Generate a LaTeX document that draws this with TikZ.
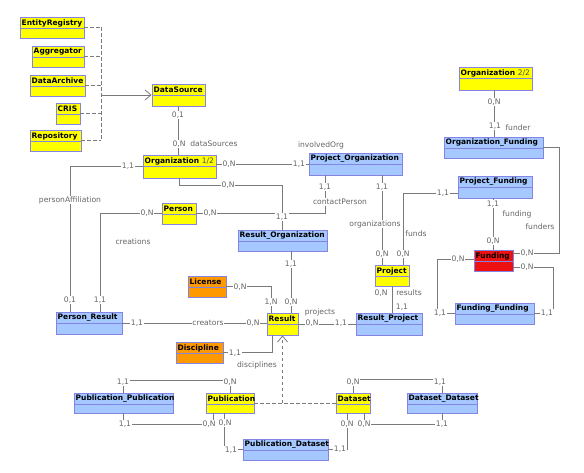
\documentclass[tikz,border=0pt]{standalone}
\usepackage{fontspec}
\setmainfont{DejaVu Sans}
\usetikzlibrary{fit,arrows.meta}
\definecolor{yel}{HTML}{FFFF00}
\definecolor{blu}{HTML}{A4C8FF}
\definecolor{ora}{HTML}{FF9900}
\definecolor{redf}{HTML}{EE1111}
\definecolor{bord}{HTML}{8484E4}
\definecolor{lnk}{HTML}{7A7A7A}
\definecolor{lbt}{HTML}{666666}
\tikzset{
  ebox/.style={draw=bord, line width=0.8pt, inner sep=0pt, rectangle},
  hdr/.style={font=\fontsize{7.5}{8}\selectfont\bfseries, inner sep=0pt, text=black},
  lab/.style={font=\fontsize{7.6}{8}\selectfont, text=lbt, fill=white, inner sep=0.8pt},
  link/.style={draw=lnk, line width=0.8pt},
  inh/.style={draw=lnk, line width=0.8pt, dash pattern=on 3.5pt off 2.5pt},
  opentip/.style={-{Straight Barb[length=6pt,width=10pt]}}
}
\newcommand\ent[7]{%
  \node[ebox, fill=#6, fit={(#2,#3) (#4,#5)}] (#1) {};
  \draw[draw=bord, line width=0.8pt] (#2,{#3+11.5}) -- (#4,{#3+11.5});
  \node[hdr, anchor=west] (#1h) at ({#2+1.5},{#3+6}) {#7};
}
\newcommand\lb[3]{\node[lab] (#1) at (#2) {#3};}
\begin{document}
\begin{tikzpicture}[x=1pt,y=-1pt]
\useasboundingbox (0,0) rectangle (584,473);
% boxes
\ent{er}{20}{17}{84}{38}{yel}{EntityRegistry}
\ent{agg}{32}{46}{84}{67}{yel}{Aggregator}
\ent{da}{30}{75}{85}{96}{yel}{DataArchive}
\ent{cris}{56}{103}{80}{124}{yel}{CRIS}
\ent{repo}{30}{130}{81}{151}{yel}{Repository}
\ent{ds}{152}{84}{205}{106}{yel}{DataSource}
\ent{orgA}{143}{155}{216}{178}{yel}{Organization {\mdseries\color{black!70}1/2}}
\ent{po}{309}{153}{402}{175}{blu}{Project\_Organization}
\ent{person}{162}{203}{196}{224}{yel}{Person}
\ent{ro}{238}{230}{327}{251}{blu}{Result\_Organization}
\ent{lic}{188}{276}{226}{297}{ora}{License}
\ent{res}{267}{313}{298}{335}{yel}{Result}
\ent{pr}{56}{312}{122}{334}{blu}{Person\_Result}
\ent{disc}{176}{342}{223}{363}{ora}{Discipline}
\ent{rp}{356}{313}{422}{335}{blu}{Result\_Project}
\ent{proj}{375}{265}{409}{286}{yel}{Project}
\ent{orgB}{459}{67}{532}{90}{yel}{Organization {\mdseries\color{black!70}2/2}}
\ent{of}{444}{137}{543}{158}{blu}{Organization\_Funding}
\ent{pf}{458}{176}{532}{198}{blu}{Project\_Funding}
\ent{fund}{474}{250}{513}{271}{redf}{Funding}
\ent{ff}{455}{303}{534}{324}{blu}{Funding\_Funding}
\ent{pp}{74}{393}{173}{413}{blu}{Publication\_Publication}
\ent{pub}{206}{393}{254}{413}{yel}{Publication}
\ent{pd}{243}{439}{328}{460}{blu}{Publication\_Dataset}
\ent{dset}{336}{393}{370}{413}{yel}{Dataset}
\ent{dd}{407}{393}{477}{413}{blu}{Dataset\_Dataset}
% inheritance
\draw[inh] (er.east) -- (er.east -| 101,0);
\draw[inh] (agg.east) -- (agg.east -| 101,0);
\draw[inh] (da.east) -- (da.east -| 101,0);
\draw[inh] (cris.east) -- (cris.east -| 101,0);
\draw[inh] (repo.east) -- (repo.east -| 101,0);
\draw[inh] (er.east -| 101,0) -- (repo.east -| 101,0);
\draw[link, opentip] (ds.west -| 101,0) -- (ds.west);
\draw[inh] (pub.east) -- (dset.west);
\draw[inh, opentip] (pub.east -| res.south) -- (res.south);
% associations
\draw[link] (ds.south) -- (ds.south |- orgA.north);
\draw[link] (po.west -| orgA.east) -- (po.west);
\draw[link] (orgA.south -| 179,0) |- (282,185) -- (ro.north -| 282,0);
\draw[link] (pr.north -| 70,0) |- (orgA.west);
\draw[link] (pr.north -| 100,0) |- (person.west);
\draw[link] (person.east) -| (po.south -| 325,0);
\draw[link] (ro.south -| 291,0) -- (res.north -| 291,0);
\draw[link] (lic.east) -| (res.north -| 271,0);
\draw[link] (pr.east) -- (pr.east -| res.west);
\draw[link] (disc.east) -| (res.south -| 272,0);
\draw[link] (res.east) -- (res.east -| rp.west);
\draw[link] (proj.south) -- (proj.south |- rp.north);
\draw[link] (po.south -| 382,0) -- (proj.north -| 382,0);
\draw[link] (proj.north -| 403,0) |- (pf.west |- 0,193);
\draw[link] (orgB.south -| 494,0) -- (of.north -| 494,0);
\draw[link] (of.east) -| (559,253) -- (fund.east |- 0,253);
\draw[link] (pf.south -| 493,0) -- (fund.north -| 493,0);
\draw[link] (fund.east |- 0,267) -| (ff.east -| 553,0) -- (ff.east);
\draw[link] (fund.west |- 0,259) -| (ff.west -| 437,0) -- (ff.west);
\draw[link] (pp.north) |- (pub.north |- 0,380) -- (pub.north);
\draw[link] (pp.south) -- ++(0,11) -| (pub.south -| 213,0);
\draw[link] (pub.south -| 224,0) |- (pd.west);
\draw[link] (dset.south -| 347,0) |- (pd.east);
\draw[link] (dset.north) -- ++(0,-13) -| (dd.north);
\draw[link] (dset.south -| 364,0) -- ++(0,11) -| (dd.south);
% labels
\lb{l1}{178,115}{0,1}
\lb{l2}{179,144}{0,N}
\lb{l3}{214,144}{dataSources}
\lb{l4}{229,164}{0,N}
\lb{l5}{299,164}{1,1}
\lb{l6}{321,145}{involvedOrg}
\lb{l7}{228,185}{0,N}
\lb{l8}{282,217}{1,1}
\lb{l9}{70,300}{0,1}
\lb{l10}{128,166}{1,1}
\lb{l11}{70,200}{personAffiliation}
\lb{l12}{100,300}{1,1}
\lb{l13}{147,213}{0,N}
\lb{l14}{133,242}{creations}
\lb{l15}{210,213}{0,N}
\lb{l16}{325,187}{1,1}
\lb{l17}{340,202}{contactPerson}
\lb{l18}{291,264}{1,1}
\lb{l19}{291,302}{0,N}
\lb{l20}{240,287}{0,N}
\lb{l21}{271,302}{1,N}
\lb{l22}{137,323}{1,1}
\lb{l23}{208,323}{creators}
\lb{l24}{253,323}{0,N}
\lb{l25}{235,353}{1,1}
\lb{l26}{257,365}{disciplines}
\lb{l27}{312,323}{0,N}
\lb{l28}{320,312}{projects}
\lb{l29}{341,323}{1,1}
\lb{l30}{381,293}{0,N}
\lb{l31}{409,293}{results}
\lb{l32}{402,307}{1,1}
\lb{l33}{382,187}{1,1}
\lb{l34}{375,224}{organizations}
\lb{l35}{382,254}{0,N}
\lb{l36}{443,193}{1,1}
\lb{l37}{416,234}{funds}
\lb{l38}{403,254}{0,N}
\lb{l39}{494,102}{0,N}
\lb{l40}{495,126}{1,1}
\lb{l41}{518,128}{funder}
\lb{l42}{527,253}{0,N}
\lb{l43}{540,227}{funders}
\lb{l44}{493,204}{1,1}
\lb{l45}{517,214}{funding}
\lb{l46}{493,241}{0,N}
\lb{l47}{527,267}{0,N}
\lb{l48}{547,313}{1,1}
\lb{l49}{458,259}{0,N}
\lb{l50}{440,313}{1,1}
\lb{l51}{123,382}{1,1}
\lb{l52}{230,382}{0,N}
\lb{l53}{125,424}{1,1}
\lb{l54}{209,424}{0,N}
\lb{l55}{225,423}{0,N}
\lb{l56}{231,450}{1,1}
\lb{l57}{347,424}{0,N}
\lb{l58}{340,449}{1,1}
\lb{l59}{353,382}{0,N}
\lb{l60}{440,382}{1,1}
\lb{l61}{364,424}{0,N}
\lb{l62}{442,424}{1,1}
\end{tikzpicture}
\end{document}
